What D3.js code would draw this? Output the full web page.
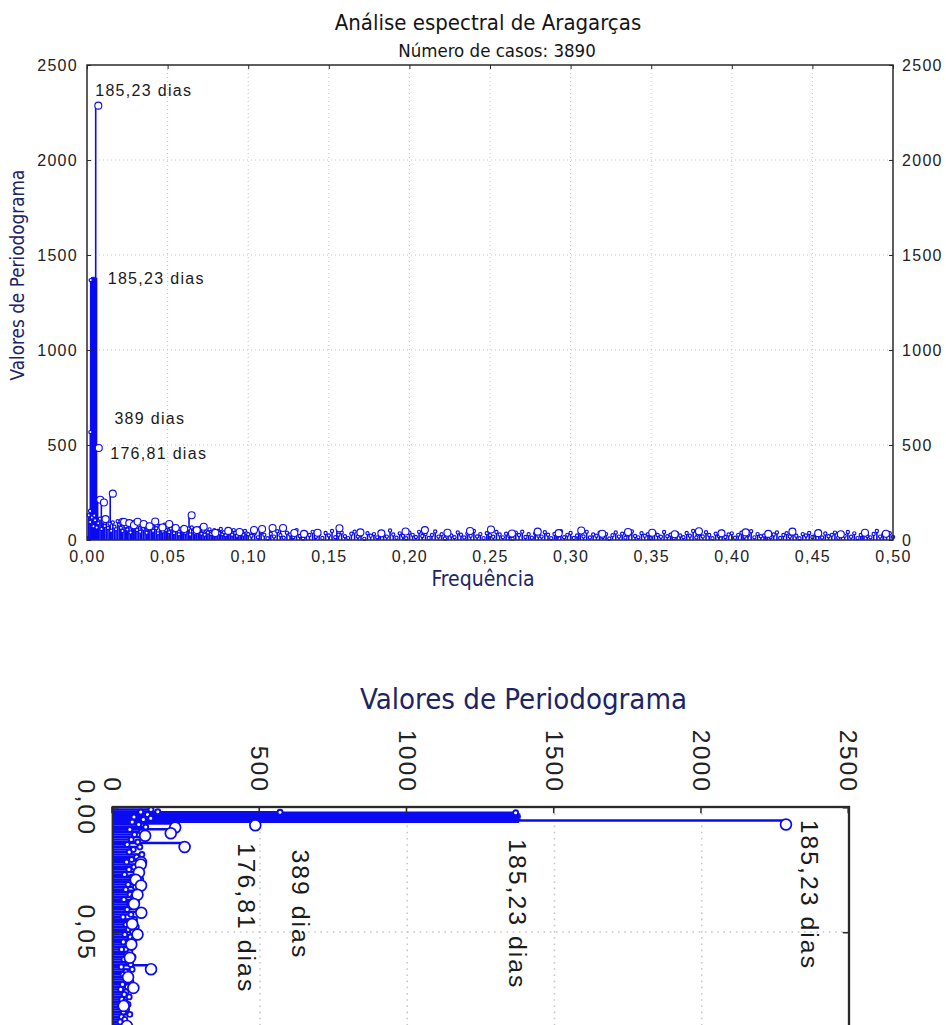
<!DOCTYPE html>
<html lang="pt">
  <head>
    <meta charset="UTF-8" />
    <title>Análise espectral de Aragarças</title>
    <script src="https://cdn.jsdelivr.net/npm/d3@7"></script>
    <style>
      body { margin: 0; background: #fff; }
      svg { display: block; }
    </style>
  </head>
  <body>
    <svg width="946" height="1025"></svg>
  </body>
  <script>
    var titleText = "Análise espectral de Aragarças";
    var subtitleText = "Número de casos: 3890";
    var xLabel = "Frequência";
    var yLabel = "Valores de Periodograma";

    var xTicks = [0, 0.05, 0.1, 0.15, 0.2, 0.25, 0.3, 0.35, 0.4, 0.45, 0.5];
    var yTicks = [0, 500, 1000, 1500, 2000, 2500];

    // spikes with the big circle marker (frequency, value)
    var bigFreq = [0.0054, 0.0057, 0.0066, 0.0089, 0.0099, 0.0144, 0.0205, 0.0214, 0.0246, 0.0275,
      0.0298, 0.0335, 0.0372, 0.0407, 0.0452, 0.0494, 0.0534, 0.0587, 0.0633, 0.0665,
      0.0708, 0.078, 0.086, 0.093, 0.102, 0.107, 0.1135, 0.12, 0.127, 0.133,
      0.1414, 0.155, 0.168, 0.181, 0.196, 0.208, 0.222, 0.236, 0.249, 0.262,
      0.278, 0.291, 0.305, 0.318, 0.334, 0.349, 0.363, 0.378, 0.392, 0.407,
      0.421, 0.436, 0.452, 0.466, 0.481, 0.494];
    var bigVal = [2286, 484, 212, 197, 110, 244, 96, 95, 89, 78,
      96, 84, 72, 97, 66, 84, 63, 58, 130, 52,
      70, 37, 48, 42, 53, 58, 63, 63, 37, 32,
      38, 62, 40, 35, 45, 52, 38, 47, 55, 34,
      44, 36, 50, 33, 42, 38, 30, 46, 35, 40,
      32, 44, 36, 30, 38, 33];

    // spikes with the small marker
    var smallFreq = [0.0019, 0.0021, 0.0023, 0.0045];
    var smallVal = [153, 568, 1368, 129];

    // spikes packed between the two main peaks (markers lost in the bar)
    var barFreq = [0.003, 0.0034, 0.0038, 0.0042, 0.0046, 0.005, 0.0059];
    var barVal = [1384, 1380, 1386, 1382, 1378, 1385, 1380];

    // background spectrum: every 0.001 up to 0.10
    var floorLow = [130, 95, 118, 72, 104, 66, 88, 112, 58, 97,
      74, 101, 63, 85, 49, 92, 70, 56, 99, 81,
      64, 47, 90, 72, 55, 83, 40, 68, 95, 61,
      52, 77, 44, 86, 59, 70, 38, 81, 57, 66,
      49, 88, 62, 35, 74, 58, 45, 80, 53, 67,
      41, 60, 72, 36, 55, 64, 30, 58, 47, 69,
      38, 52, 61, 29, 66, 44, 35, 57, 48, 62,
      33, 50, 27, 45, 39, 56, 31, 42, 52, 26,
      47, 36, 58, 30, 41, 25, 49, 34, 44, 28,
      52, 37, 23, 46, 31, 40, 27, 48, 35, 30];
    // then every 0.002 from 0.102 to 0.50
    var floorHigh = [22, 35, 14, 41, 27, 9, 33, 18, 46, 25,
      12, 38, 29, 16, 52, 21, 8, 34, 26, 43,
      17, 30, 11, 37, 24, 48, 15, 28, 39, 20,
      10, 33, 44, 19, 27, 6, 36, 23, 31, 14,
      41, 25, 18, 50, 29, 12, 35, 22, 9, 38,
      27, 16, 43, 21, 32, 11, 26, 45, 18, 30,
      8, 37, 24, 15, 40, 28, 13, 34, 22, 47,
      19, 31, 10, 36, 25, 17, 42, 29, 14, 33,
      21, 7, 39, 26, 44, 16, 30, 12, 35, 23,
      18, 41, 28, 9, 32, 20, 46, 15, 27, 37,
      11, 24, 34, 19, 43, 13, 29, 22, 38, 16,
      31, 8, 25, 40, 18, 33, 12, 27, 45, 21,
      14, 36, 23, 30, 10, 39, 26, 17, 42, 20,
      28, 11, 34, 24, 15, 37, 22, 48, 13, 30,
      19, 41, 26, 9, 33, 21, 44, 16, 29, 35,
      12, 27, 38, 18, 25, 46, 14, 31, 20, 24,
      33, 15, 29, 40, 11, 26, 36, 19, 43, 22,
      9, 31, 24, 37, 16, 28, 45, 13, 34, 20,
      27, 39, 12, 30, 23, 42, 17, 35, 10, 26,
      38, 21, 14, 32, 47, 18, 29, 25, 36, 16];

    var labelText = ["185,23 dias", "185,23 dias", "389 dias", "176,81 dias"];
    var labelFreq = [0.0054, 0.0023, 0.0021, 0.0057];
    var labelVal = [2286, 1368, 568, 484];

    var svg = d3.select("svg");
    var W = 806,
      H = 475;
    var blue = "#0b0bf2";
    var tickFont = "'Liberation Sans', Arial, sans-serif";
    var titleFont = "'DejaVu Sans Condensed', 'DejaVu Sans', sans-serif";

    function pairs(fs, vs) {
      return fs.map((f, i) => ({ f: f, v: vs[i] }));
    }

    // maxFreq: highest frequency whose tick label is on the page
    // full: whether the right axis labels and x title are on the page
    function drawPeriodogram(g, maxFreq, full) {
      var x = d3.scaleLinear().domain([0, 0.5]).range([0, W]);
      var y = d3.scaleLinear().domain([0, 2500]).range([H, 0]);
      var fmt = (d) => (d <= maxFreq ? d3.format(".2f")(d).replace(".", ",") : "");

      // dotted grid
      g.append("g")
        .selectAll("line")
        .data(xTicks.slice(1, -1))
        .join("line")
        .attr("x1", (d) => x(d))
        .attr("x2", (d) => x(d))
        .attr("y1", 0)
        .attr("y2", H)
        .attr("stroke", "#c6c6c6")
        .attr("stroke-dasharray", "1,3");
      g.append("g")
        .selectAll("line")
        .data(yTicks.slice(1, -1))
        .join("line")
        .attr("x1", 0)
        .attr("x2", W)
        .attr("y1", (d) => y(d))
        .attr("y2", (d) => y(d))
        .attr("stroke", "#c6c6c6")
        .attr("stroke-dasharray", "1,3");

      var floor = floorLow
        .map((v, i) => ({ f: (i + 1) * 0.001, v: v }))
        .concat(floorHigh.map((v, i) => ({ f: 0.102 + i * 0.002, v: v })));
      var small = pairs(smallFreq, smallVal);
      var bar = pairs(barFreq, barVal);
      var big = pairs(bigFreq, bigVal);

      g.append("g")
        .attr("stroke", blue)
        .attr("stroke-width", 1.6)
        .selectAll("line")
        .data(floor.concat(bar, small, big))
        .join("line")
        .attr("x1", (d) => x(d.f))
        .attr("x2", (d) => x(d.f))
        .attr("y1", y(0))
        .attr("y2", (d) => y(d.v));

      g.append("g")
        .selectAll("circle")
        .data(floor.concat(small))
        .join("circle")
        .attr("cx", (d) => x(d.f))
        .attr("cy", (d) => y(d.v))
        .attr("r", 1.6)
        .attr("fill", "#fff")
        .attr("stroke", blue)
        .attr("stroke-width", 1.2);

      g.append("g")
        .selectAll("circle")
        .data(big)
        .join("circle")
        .attr("cx", (d) => x(d.f) + 2.6)
        .attr("cy", (d) => y(d.v))
        .attr("r", 3.5)
        .attr("fill", "#fff")
        .attr("stroke", blue)
        .attr("stroke-width", 1.1);

      // axes, ticks pointing inwards
      var axes = [
        g.append("g").call(d3.axisLeft(y).tickValues(yTicks).tickFormat(d3.format("d")).tickSize(-4).tickPadding(9)),
        g.append("g").attr("transform", "translate(" + W + ",0)")
          .call(d3.axisRight(y).tickValues(yTicks).tickFormat(full ? d3.format("d") : "").tickSize(-4).tickPadding(9)),
        g.append("g").attr("transform", "translate(0," + H + ")")
          .call(d3.axisBottom(x).tickValues(xTicks).tickFormat(fmt).tickSize(-4).tickPadding(11)),
        g.append("g").call(d3.axisTop(x).tickValues(xTicks).tickFormat("").tickSize(-4)),
      ];
      axes.forEach((a) => {
        a.select(".domain").remove();
        a.attr("color", "#2a2a2a")
          .attr("font-family", tickFont)
          .attr("font-size", 16)
          .attr("letter-spacing", "1.3px");
        a.selectAll("text").filter(function () { return this.textContent === ""; }).remove();
        a.selectAll("text").attr("fill", "#222");
      });

      g.append("rect")
        .attr("width", W)
        .attr("height", H)
        .attr("fill", "none")
        .attr("stroke", "#2a2a2a")
        .attr("stroke-width", 1.5);

      // peak annotations
      var offs = [[-0.5, -10], [17, 4], [24, -8], [14, 11]];
      g.append("g")
        .selectAll("text")
        .data(labelText)
        .join("text")
        .attr("x", (d, i) => x(labelFreq[i]) + offs[i][0])
        .attr("y", (d, i) => y(labelVal[i]) + offs[i][1])
        .attr("font-family", tickFont)
        .attr("font-size", 16)
        .attr("letter-spacing", "1.3px")
        .attr("fill", "#1a1a1a")
        .text((d) => d);

      g.append("text")
        .attr("transform", "translate(-63,210) rotate(-90)")
        .attr("text-anchor", "middle")
        .attr("font-family", titleFont)
        .attr("font-stretch", "condensed")
        .attr("font-size", 18.8)
        .attr("fill", "#1c2466")
        .text(yLabel);

      if (full) {
        g.append("text")
          .attr("x", 396)
          .attr("y", H + 46)
          .attr("text-anchor", "middle")
          .attr("font-family", titleFont)
          .attr("font-stretch", "condensed")
          .attr("font-size", 21)
          .attr("fill", "#1c2466")
          .text(xLabel);
      }
    }

    var topChart = svg.append("g").attr("transform", "translate(87,65)");
    drawPeriodogram(topChart, 0.5, true);

    topChart
      .append("text")
      .attr("x", 401)
      .attr("y", -35)
      .attr("text-anchor", "middle")
      .attr("font-family", titleFont)
      .attr("font-stretch", "condensed")
      .attr("font-size", 22)
      .attr("fill", "#141414")
      .text(titleText);
    topChart
      .append("text")
      .attr("x", 410)
      .attr("y", -8)
      .attr("text-anchor", "middle")
      .attr("font-family", titleFont)
      .attr("font-stretch", "condensed")
      .attr("font-size", 18.5)
      .attr("fill", "#141414")
      .text(subtitleText);

    // the same periodogram, enlarged and turned a quarter turn;
    // the page cuts it off a little past 0,05
    var zoomed = svg
      .append("g")
      .attr("transform", "translate(849,807) rotate(90) scale(1.55)");
    drawPeriodogram(zoomed, 0.05, false);
  </script>
</html>
